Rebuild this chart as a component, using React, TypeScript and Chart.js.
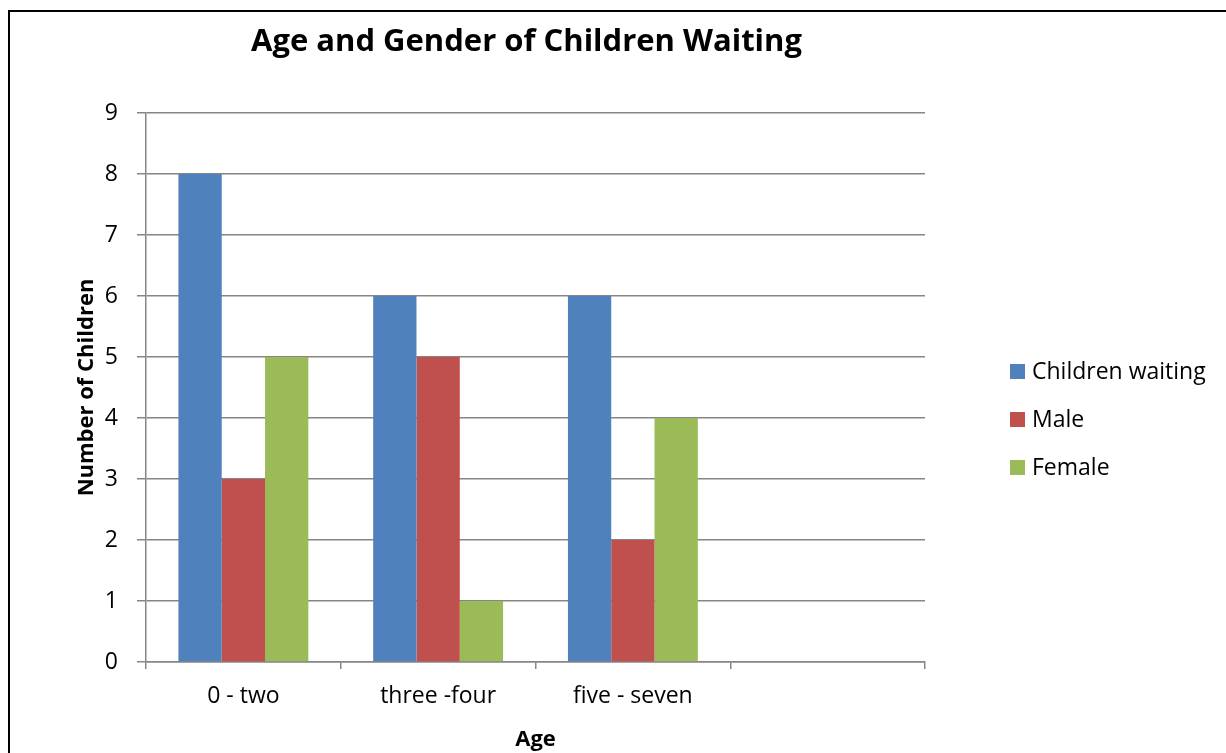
import React, { useEffect, useRef } from "react";
import { Chart, registerables } from "chart.js";

Chart.register(...registerables);

const categories = ["0 - two", "three -four", "five - seven", ""];
const childrenWaiting = [8, 6, 6, null];
const male = [3, 5, 2, null];
const female = [5, 1, 4, null];
const seriesNames = ["Children waiting", "Male", "Female"];
const seriesColors = ["#4F81BD", "#C0504D", "#9BBB59"];
const chartTitle = "Age and Gender of Children Waiting";
const xTitle = "Age";
const yTitle = "Number of Children";

const FONT = "'Open Sans', 'Noto Sans', sans-serif";
const GRID = "#868686";

const titlePlugin = {
  id: "customTitle",
  afterDraw(chart: any) {
    const ctx = chart.ctx;
    const ca = chart.chartArea;
    ctx.save();
    ctx.font = `bold 31px ${FONT}`;
    ctx.fillStyle = "#000";
    ctx.textAlign = "center";
    ctx.textBaseline = "alphabetic";
    ctx.fillText(chartTitle, (ca.left + ca.right) / 2 - 9, 51);
    ctx.restore();
  },
};

const legendPlugin = {
  id: "customLegend",
  afterDraw(chart: any) {
    const ctx = chart.ctx;
    const ca = chart.chartArea;
    const ds = chart.data.datasets;
    ctx.save();
    ctx.font = `23px ${FONT}`;
    ctx.textBaseline = "middle";
    ctx.textAlign = "left";
    const x0 = ca.right + 85;
    const yc = 419;
    const step = 48;
    ds.forEach((d: any, i: number) => {
      const y = yc + (i - (ds.length - 1) / 2) * step;
      ctx.fillStyle = d.backgroundColor;
      ctx.fillRect(x0, y - 7, 15, 15);
      ctx.fillStyle = "#000";
      ctx.fillText(d.label, x0 + 22, y + 1);
    });
    ctx.restore();
  },
};

export default function App() {
  const ref = useRef<HTMLCanvasElement>(null);
  useEffect(() => {
    if (!ref.current) return;
    const chart = new Chart(ref.current, {
      type: "bar",
      data: {
        labels: categories,
        datasets: [childrenWaiting, male, female].map((values, i) => ({
          label: seriesNames[i],
          data: values,
          backgroundColor: seriesColors[i],
          borderWidth: 0,
          categoryPercentage: 0.667,
          barPercentage: 1,
        })),
      },
      options: {
        responsive: false,
        animation: false,
        devicePixelRatio: 1,
        layout: { padding: { left: 0, top: 113, right: 301, bottom: 0 } },
        plugins: {
          legend: { display: false },
          title: { display: false },
          tooltip: { enabled: false },
        },
        scales: {
          x: {
            afterFit: (s: any) => {
              s.height = 91;
            },
            grid: {
              offset: true,
              drawOnChartArea: false,
              drawTicks: true,
              tickLength: 7,
              color: GRID,
              lineWidth: 1.5,
            },
            border: { color: GRID, width: 1.5 },
            ticks: {
              color: "#000",
              font: { family: FONT, size: 23 },
              padding: 14,
            },
            title: {
              display: true,
              text: xTitle,
              color: "#000",
              font: { family: FONT, size: 22, weight: "bold" },
              padding: { top: 5, bottom: 0 },
            },
          },
          y: {
            min: 0,
            max: 9,
            afterFit: (s: any) => {
              s.width = 146;
            },
            grid: {
              color: GRID,
              lineWidth: 1.5,
              tickLength: 9,
              drawTicks: true,
            },
            border: { color: GRID, width: 1.5 },
            ticks: {
              stepSize: 1,
              color: "#000",
              font: { family: FONT, size: 23 },
              padding: 19,
            },
            title: {
              display: true,
              text: yTitle,
              color: "#000",
              font: { family: FONT, size: 22, weight: "bold" },
              padding: { top: 74, bottom: 0 },
            },
          },
        },
      },
      plugins: [titlePlugin, legendPlugin],
    });
    return () => chart.destroy();
  }, []);

  return (
    <div
      style={{
        position: "absolute",
        left: 0,
        top: 0,
        width: 1226,
        height: 753,
        overflow: "hidden",
        background: "#fff",
      }}
    >
      <canvas ref={ref} width={1226} height={753} style={{ position: "absolute", left: 0, top: 0 }} />
      <div
        style={{
          position: "absolute",
          left: 8,
          top: 10,
          width: 1300,
          height: 800,
          borderTop: "2px solid #000",
          borderLeft: "2px solid #000",
          pointerEvents: "none",
        }}
      />
    </div>
  );
}
